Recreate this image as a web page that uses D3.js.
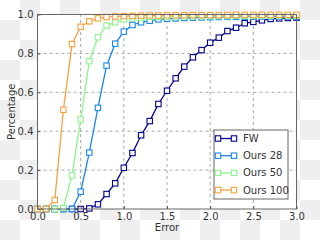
<!DOCTYPE html>
<html>
<head>
<meta charset="utf-8">
<script src="https://cdn.jsdelivr.net/npm/d3@7"></script>
<style>
body { margin: 0; }
text { font-family: "DejaVu Sans", sans-serif; }
</style>
</head>
<body>
<div id="chart"></div>
<script>
// error thresholds, 0.0 .. 3.0
var errors = [0.0,0.1,0.2,0.3,0.4,0.5,0.6,0.7,0.8,0.9,1.0,1.1,1.2,1.3,1.4,1.5,1.6,1.7,1.8,1.9,2.0,2.1,2.2,2.3,2.4,2.5,2.6,2.7,2.8,2.9,3.0];

var seriesNames = ["FW", "Ours 28", "Ours 50", "Ours 100"];
var seriesColors = ["#00008b", "#1a86ee", "#8cf58c", "#f5a23c"];

var fw     = [0,0,0,0,0,0,0.003,0.024,0.077,0.132,0.212,0.288,0.379,0.452,0.54,0.608,0.672,0.732,0.78,0.817,0.855,0.881,0.915,0.932,0.955,0.962,0.97,0.977,0.98,0.982,0.984];
var ours28 = [0,0,0,0,0,0.089,0.29,0.52,0.737,0.85,0.912,0.946,0.96,0.968,0.975,0.978,0.98,0.982,0.984,0.985,0.986,0.987,0.988,0.988,0.989,0.989,0.99,0.99,0.99,0.99,0.99];
var ours50 = [0,0,0,0.005,0.173,0.46,0.76,0.883,0.943,0.96,0.975,0.98,0.984,0.987,0.988,0.989,0.99,0.99,0.991,0.991,0.992,0.992,0.992,0.993,0.993,0.993,0.993,0.994,0.994,0.994,0.994];
var ours100= [0,0,0.046,0.51,0.848,0.937,0.965,0.98,0.987,0.99,0.992,0.993,0.994,0.995,0.995,0.996,0.996,0.996,0.997,0.997,0.997,0.997,0.997,0.998,0.998,0.998,0.998,0.998,0.998,0.998,0.998];

var xTicks = [0.0,0.5,1.0,1.5,2.0,2.5,3.0];
var yTicks = [0.0,0.2,0.4,0.6,0.8,1.0];

var allSeries = [fw, ours28, ours50, ours100];

var width = 320, height = 240;
var margin = {top: 14.5, right: 23.5, bottom: 31, left: 37.5};

var svg = d3.select("#chart").append("svg")
	.attr("width", width)
	.attr("height", height);

// transparency checkerboard behind everything
var cell = 20;
for (var iy = 0; iy < height / cell; iy++) {
	for (var ix = 0; ix < width / cell; ix++) {
		svg.append("rect")
			.attr("x", ix * cell).attr("y", iy * cell)
			.attr("width", cell).attr("height", cell)
			.attr("fill", (ix + iy) % 2 ? "#efefef" : "#ffffff");
	}
}

var x = d3.scaleLinear().domain([0, 3]).range([margin.left, width - margin.right]);
var y = d3.scaleLinear().domain([0, 1]).range([height - margin.bottom, margin.top]);

// plot area
svg.append("rect")
	.attr("x", x(0)).attr("y", y(1))
	.attr("width", x(3) - x(0)).attr("height", y(0) - y(1))
	.attr("fill", "#ffffff");

// grid
svg.append("g").selectAll("line")
	.data(xTicks.slice(1, -1))
	.enter().append("line")
	.attr("x1", function(d){ return x(d); }).attr("x2", function(d){ return x(d); })
	.attr("y1", y(0)).attr("y2", y(1))
	.attr("stroke", "#a8a8a8").attr("stroke-dasharray", "3,3");

svg.append("g").selectAll("line")
	.data(yTicks.slice(1, -1))
	.enter().append("line")
	.attr("y1", function(d){ return y(d); }).attr("y2", function(d){ return y(d); })
	.attr("x1", x(0)).attr("x2", x(3))
	.attr("stroke", "#a8a8a8").attr("stroke-dasharray", "3,3");

// series
var line = d3.line()
	.x(function(d, i){ return x(errors[i]); })
	.y(function(d){ return y(d); });

allSeries.forEach(function(s, k){
	var g = svg.append("g");
	g.append("path")
		.attr("d", line(s))
		.attr("fill", "none")
		.attr("stroke", seriesColors[k])
		.attr("stroke-width", 1.3);
	g.selectAll("rect")
		.data(s)
		.enter().append("rect")
		.attr("x", function(d, i){ return x(errors[i]) - 2.7; })
		.attr("y", function(d){ return y(d) - 2.7; })
		.attr("width", 5.4).attr("height", 5.4)
		.attr("fill", "#ffffff")
		.attr("stroke", seriesColors[k])
		.attr("stroke-width", 1.1);
});

// axes
var xAxis = svg.append("g")
	.attr("transform", "translate(0," + y(0) + ")")
	.call(d3.axisBottom(x).tickValues(xTicks).tickFormat(d3.format(".1f")).tickSizeInner(-3).tickSizeOuter(0).tickPadding(4));
var yAxis = svg.append("g")
	.attr("transform", "translate(" + x(0) + ",0)")
	.call(d3.axisLeft(y).tickValues(yTicks).tickFormat(d3.format(".1f")).tickSizeInner(-3).tickSizeOuter(0).tickPadding(4));

[xAxis, yAxis].forEach(function(a){
	a.select(".domain").remove();
	a.selectAll("line").attr("stroke", "#555");
	a.selectAll("text").attr("fill", "#333").style("font-size", "10px").style("font-family", "DejaVu Sans");
});

// frame
svg.append("rect")
	.attr("x", x(0)).attr("y", y(1))
	.attr("width", x(3) - x(0)).attr("height", y(0) - y(1))
	.attr("fill", "none")
	.attr("stroke", "#666")
	.attr("stroke-width", 1);

svg.append("text")
	.attr("x", (x(0) + x(3)) / 2)
	.attr("y", 231)
	.attr("text-anchor", "middle")
	.attr("fill", "#333")
	.style("font-size", "10px")
	.text("Error");

svg.append("text")
	.attr("transform", "translate(15," + ((y(0) + y(1)) / 2) + ") rotate(-90)")
	.attr("text-anchor", "middle")
	.attr("fill", "#333")
	.style("font-size", "10px")
	.text("Percentage");

// legend
var legend = svg.append("g").attr("transform", "translate(214,130)");
legend.append("rect")
	.attr("width", 74).attr("height", 69)
	.attr("fill", "#ffffff")
	.attr("stroke", "#666");

seriesNames.forEach(function(name, k){
	var row = legend.append("g").attr("transform", "translate(0," + (8.5 + k * 17.2) + ")");
	row.append("line")
		.attr("x1", 4).attr("x2", 20)
		.attr("stroke", seriesColors[k]).attr("stroke-width", 1.3);
	[4, 20].forEach(function(cx){
		row.append("rect")
			.attr("x", cx - 2.7).attr("y", -2.7)
			.attr("width", 5.4).attr("height", 5.4)
			.attr("fill", "#ffffff")
			.attr("stroke", seriesColors[k])
			.attr("stroke-width", 1.1);
	});
	row.append("text")
		.attr("x", 29).attr("dy", "0.35em")
		.attr("fill", "#333")
		.style("font-size", "10px")
		.text(name);
});
</script>
</body>
</html>
